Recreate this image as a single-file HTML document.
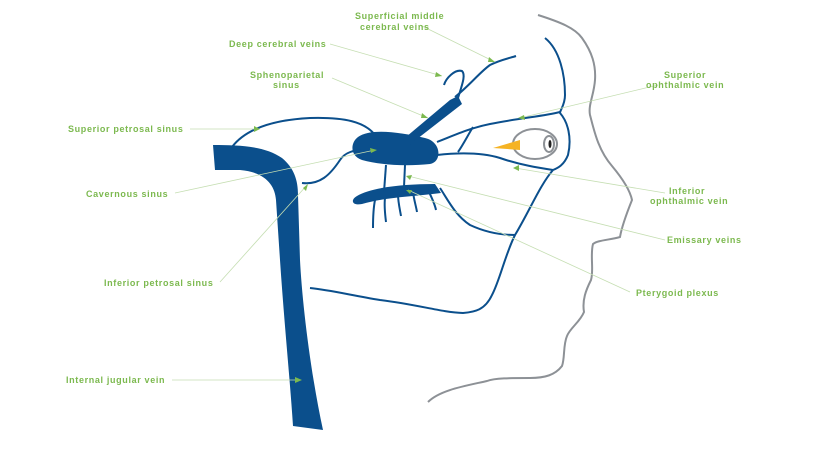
<!DOCTYPE html>
<html><head><style>body{margin:0;background:#fff}svg{display:block}text{font-family:"Liberation Sans",sans-serif;font-size:9px;font-weight:bold;fill:#7cb94f;letter-spacing:0.65px}</style></head>
<body>
<svg width="819" height="460" viewBox="0 0 819 460" xmlns="http://www.w3.org/2000/svg">
<g fill="none" stroke="#8d9196" stroke-width="2">
<path d="M538,15 C560,22 575,28 582,38 C592,52 596,65 595,80 C594,95 588,105 590,115 C594,130 598,150 612,166 C622,178 630,190 632,200 C628,210 622,225 620,237 C610,240 598,240 593,244 C590,255 594,270 591,280 C586,290 582,300 584,312 C580,322 570,328 567,336 C563,345 565,358 562,366 C555,375 545,378 530,378 C510,378 495,378 487,381 C465,386 440,390 428,402"/>
<ellipse cx="535" cy="144" rx="22" ry="15"/>
<ellipse cx="549" cy="144" rx="5" ry="8"/>
</g>
<ellipse cx="550" cy="144" rx="1.5" ry="4" fill="#222"/>
<polygon points="493,148 520,140 520,150" fill="#f5b324"/>
<g fill="#0b4f8c" stroke="none">
<path d="M213,145 C240,145 265,146 282,158 C294,168 298,180 298,195 L300,260 C302,300 310,370 323,430 L293,426 C290,380 284,320 280,260 L276,200 C275,185 265,172 240,170 L215,170 Z"/>
<path d="M358,137 C370,128 400,132 425,138 C442,142 442,162 430,164 C410,166 385,166 362,160 C350,156 350,143 358,137 Z"/>
<path d="M357,196 C370,188 400,184 435,184 L441,193 C420,196 385,197 362,204 C352,206 350,200 357,196 Z"/>
<path d="M400,142 L450,100 L458,96 L462,104 L408,146 Z"/>
</g>
<g fill="none" stroke="#0b4f8c" stroke-width="2">
<path d="M232,147 C245,130 270,120 310,118 C345,117 365,122 375,135"/>
<path d="M302,183 C320,185 330,175 340,160 C345,152 355,150 362,150"/>
<path d="M458,98 C462,85 466,75 462,71 C455,69 446,78 444,85"/>
<path d="M455,97 C470,85 480,72 490,65 C500,60 510,58 516,56"/>
<path d="M437,142 C455,135 470,128 490,124 C520,118 545,116 560,112"/>
<path d="M437,155 C455,153 480,152 500,158 C520,165 540,168 553,170"/>
<path d="M473,127 C468,135 463,145 458,152"/>
<path d="M545,38 C560,50 565,75 565,95 C565,105 560,110 560,113 C568,122 572,138 568,155 C564,165 558,168 553,170 C540,185 530,210 515,235 C505,255 500,280 492,295 C485,310 475,312 463,313 C440,312 420,305 380,300 C350,295 330,290 310,288"/>
<path d="M440,188 C448,200 455,215 470,225 C485,232 500,235 515,235"/>
<path d="M386,165 L384,192"/><path d="M405,165 L404,187"/>
<path d="M375,200 C373,210 373,220 373,228"/>
<path d="M385,198 C384,206 385,214 386,222"/>
<path d="M398,194 C398,202 400,210 401,216"/>
<path d="M413,192 C414,200 416,206 417,212"/>
<path d="M428,190 C432,198 435,205 436,210"/>
</g>
<g stroke="#c5deb2" stroke-width="0.8" fill="none">
<line x1="420" y1="25" x2="495" y2="62"/>
<line x1="330" y1="44" x2="442" y2="76"/>
<line x1="332" y1="78" x2="428" y2="118"/>
<line x1="190" y1="129" x2="258" y2="129"/>
<line x1="175" y1="193" x2="375" y2="150"/>
<line x1="220" y1="282" x2="308" y2="184"/>
<line x1="172" y1="380" x2="300" y2="380"/>
<line x1="658" y1="85" x2="520" y2="118"/>
<line x1="665" y1="193" x2="515" y2="168"/>
<line x1="665" y1="240" x2="408" y2="176"/>
<line x1="630" y1="292" x2="408" y2="190"/>
</g>
<g fill="#7cb94f">
<polygon points="495,62 489,57 488,62"/>
<polygon points="442,76 436,72 435,77"/>
<polygon points="428,118 422,113 421,118"/>
<polygon points="260,129 254,126 254,132"/>
<polygon points="377,150 370,148 371,153"/>
<polygon points="308,184 303,188 306,191"/>
<polygon points="302,380 295,377 295,383"/>
<polygon points="518,118 524,115 525,120"/>
<polygon points="513,168 519,165 519,171"/>
<polygon points="406,176 412,175 410,180"/>
<polygon points="406,190 412,190 410,194"/>
</g>
<text x="355" y="19">Superficial middle</text>
<text x="360" y="30">cerebral veins</text>
<text x="229" y="47">Deep cerebral veins</text>
<text x="250" y="78">Sphenoparietal</text>
<text x="273" y="88">sinus</text>
<text x="68" y="132">Superior petrosal sinus</text>
<text x="86" y="197">Cavernous sinus</text>
<text x="104" y="286">Inferior petrosal sinus</text>
<text x="66" y="383">Internal jugular vein</text>
<text x="664" y="78">Superior</text>
<text x="646" y="88">ophthalmic vein</text>
<text x="669" y="194">Inferior</text>
<text x="650" y="204">ophthalmic vein</text>
<text x="667" y="243">Emissary veins</text>
<text x="636" y="296">Pterygoid plexus</text>
</svg>
</body></html>
